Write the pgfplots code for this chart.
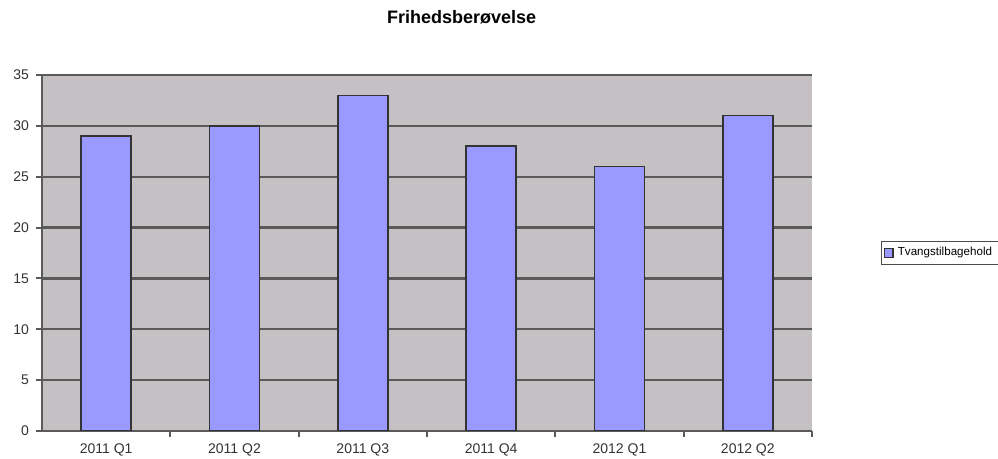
\documentclass[border=0pt]{standalone}
\usepackage{fontspec}
\setmainfont{Liberation Sans}
\usepackage{pgfplots}
\pgfplotsset{compat=1.18}
\definecolor{plotbg}{HTML}{C4C0C4}
\definecolor{barfill}{HTML}{9999FF}
\definecolor{gridc}{HTML}{5A5A5A}

\begin{document}
\begin{tikzpicture}
% picture frame in px*0.5pt, axis box sits at the origin
\useasboundingbox (-21pt,-14pt) rectangle (478pt,215.5pt);
\begin{axis}[
  scale only axis, width=385pt, height=178pt,
  xmin=-0.5, xmax=5.5, ymin=0, ymax=35,
  axis lines*=left,
  axis line style={-, gridc, line width=1.2pt},
  axis background/.style={fill=plotbg},
  ytick={0,5,...,35}, ymajorgrids,
  grid style={gridc, line width=1.1pt},
  xtick={0,...,5},
  xticklabels={2011 Q1,2011 Q2,2011 Q3,2011 Q4,2012 Q1,2012 Q2},
  minor xtick={0.5,1.5,2.5,3.5,4.5,5.5},
  major x tick style={draw=none},
  tick align=outside, major tick length=3pt, minor tick length=3pt,
  tick style={gridc, line width=1pt},
  tick label style={font=\fontsize{7}{8}\selectfont, text=black!80},
  /pgf/number format/assume math mode=true,
  title={\bfseries Frihedsberøvelse},
  title style={at={(0.545,1)}, anchor=center, yshift=23pt,
               font=\fontsize{9}{10}\selectfont},
  legend style={at={(1.09,0.5)}, anchor=west, draw=black!70,
                font=\fontsize{5.8}{7}\selectfont, inner sep=1pt,
                cells={anchor=west}},
  legend image code/.code={\draw[#1] (0pt,-2.2pt) rectangle (4.4pt,2.2pt);},
]
\addplot[ybar, bar width=0.39, fill=barfill, draw=black!80, line width=0.7pt]
  coordinates {(0,29) (1,30) (2,33) (3,28) (4,26) (5,31)};
\legend{Tvangstilbagehold}
\end{axis}
\end{tikzpicture}
\end{document}
